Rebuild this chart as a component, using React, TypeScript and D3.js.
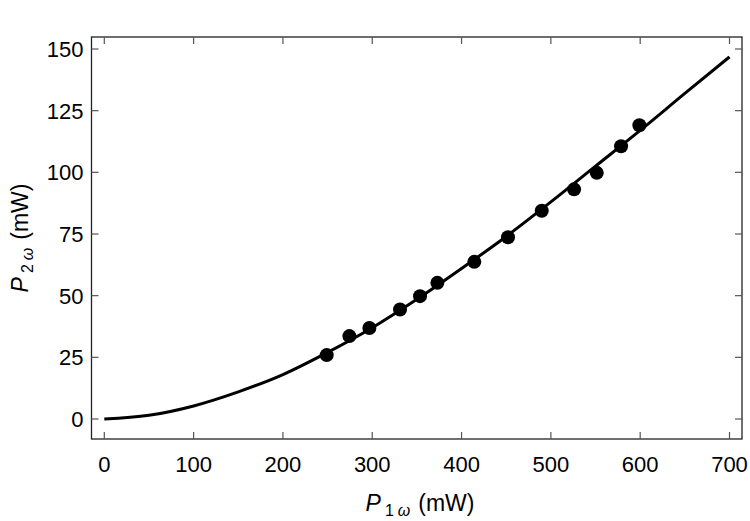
import React from "react";
import * as d3 from "d3";

// Measured second-harmonic power versus fundamental power (mW)
const pumpPower = [249, 274.4, 296.8, 331.1, 353.5, 372.9, 414.3, 452, 489.8, 526, 551.4, 578.6, 599.1];
const shgPower = [25.9, 33.6, 36.9, 44.4, 49.8, 55.2, 63.7, 73.7, 84.4, 93.1, 99.8, 110.6, 119.1];

// Fitted model curve, sampled every 50 mW
const fitPump = [0, 50, 100, 150, 200, 250, 300, 350, 400, 450, 500, 550, 600, 650, 700];
const fitShg = [0, 1.5, 5.3, 11, 18, 27, 37, 48.5, 61, 74, 88, 102.5, 117, 132, 146.8];

const xTicks = [0, 100, 200, 300, 400, 500, 600, 700];
const yTicks = [0, 25, 50, 75, 100, 125, 150];

const W = 750;
const H = 521;
const frame = { left: 91.5, right: 742, top: 37, bottom: 439 };
const FONT = "'Liberation Sans', Arial, sans-serif";

export default function App() {
  const x = d3.scaleLinear().domain([0, 700]).range([104.3, 729.5]);
  const y = d3.scaleLinear().domain([0, 150]).range([419, 49]);

  const line = d3
    .line<number>()
    .x((_, i) => x(fitPump[i]))
    .y((d) => y(d))
    .curve(d3.curveMonotoneX);

  const tickLen = 7;
  const tickColor = "#555";

  return (
    <svg
      width={W}
      height={H}
      style={{ position: "absolute", left: 0, top: 0, background: "#fff" }}
      fontFamily={FONT}
    >
      {/* frame */}
      <rect
        x={frame.left}
        y={frame.top}
        width={frame.right - frame.left}
        height={frame.bottom - frame.top}
        fill="none"
        stroke="#222"
        strokeWidth={1.3}
      />
      {/* x ticks, bottom and top */}
      {xTicks.map((t) => (
        <g key={"x" + t}>
          <line x1={x(t)} x2={x(t)} y1={frame.bottom} y2={frame.bottom - tickLen} stroke={tickColor} strokeWidth={1.2} />
          <line x1={x(t)} x2={x(t)} y1={frame.top} y2={frame.top + tickLen} stroke={tickColor} strokeWidth={1.2} />
          <text x={x(t)} y={472} textAnchor="middle" fontSize={22} fill="#000">
            {t}
          </text>
        </g>
      ))}
      {/* y ticks, left and right */}
      {yTicks.map((t) => (
        <g key={"y" + t}>
          <line x1={frame.left} x2={frame.left + tickLen} y1={y(t)} y2={y(t)} stroke={tickColor} strokeWidth={1.2} />
          <line x1={frame.right} x2={frame.right - tickLen} y1={y(t)} y2={y(t)} stroke={tickColor} strokeWidth={1.2} />
          <text x={83.5} y={y(t) + 8} textAnchor="end" fontSize={22} fill="#000">
            {t}
          </text>
        </g>
      ))}
      {/* fit curve */}
      <path d={line(fitShg) ?? ""} fill="none" stroke="#000" strokeWidth={3} />
      {/* measured points */}
      {pumpPower.map((p, i) => (
        <circle key={i} cx={x(p)} cy={y(shgPower[i])} r={7} fill="#000" />
      ))}
      {/* axis titles */}
      <text x={420} y={511} textAnchor="middle" fontSize={23} fill="#000">
        <tspan fontStyle="italic">P</tspan>
        <tspan fontSize={16} dy={5} dx={4}>1</tspan>
        <tspan fontSize={16} fontStyle="italic" dx={4}>ω</tspan>
        <tspan dy={-5} dx={8}>(mW)</tspan>
      </text>
      <text
        transform={`translate(28, 238) rotate(-90)`}
        textAnchor="middle"
        fontSize={23}
        fill="#000"
      >
        <tspan fontStyle="italic">P</tspan>
        <tspan fontSize={16} dy={5} dx={4}>2</tspan>
        <tspan fontSize={16} fontStyle="italic" dx={4}>ω</tspan>
        <tspan dy={-5} dx={8}>(mW)</tspan>
      </text>
    </svg>
  );
}
